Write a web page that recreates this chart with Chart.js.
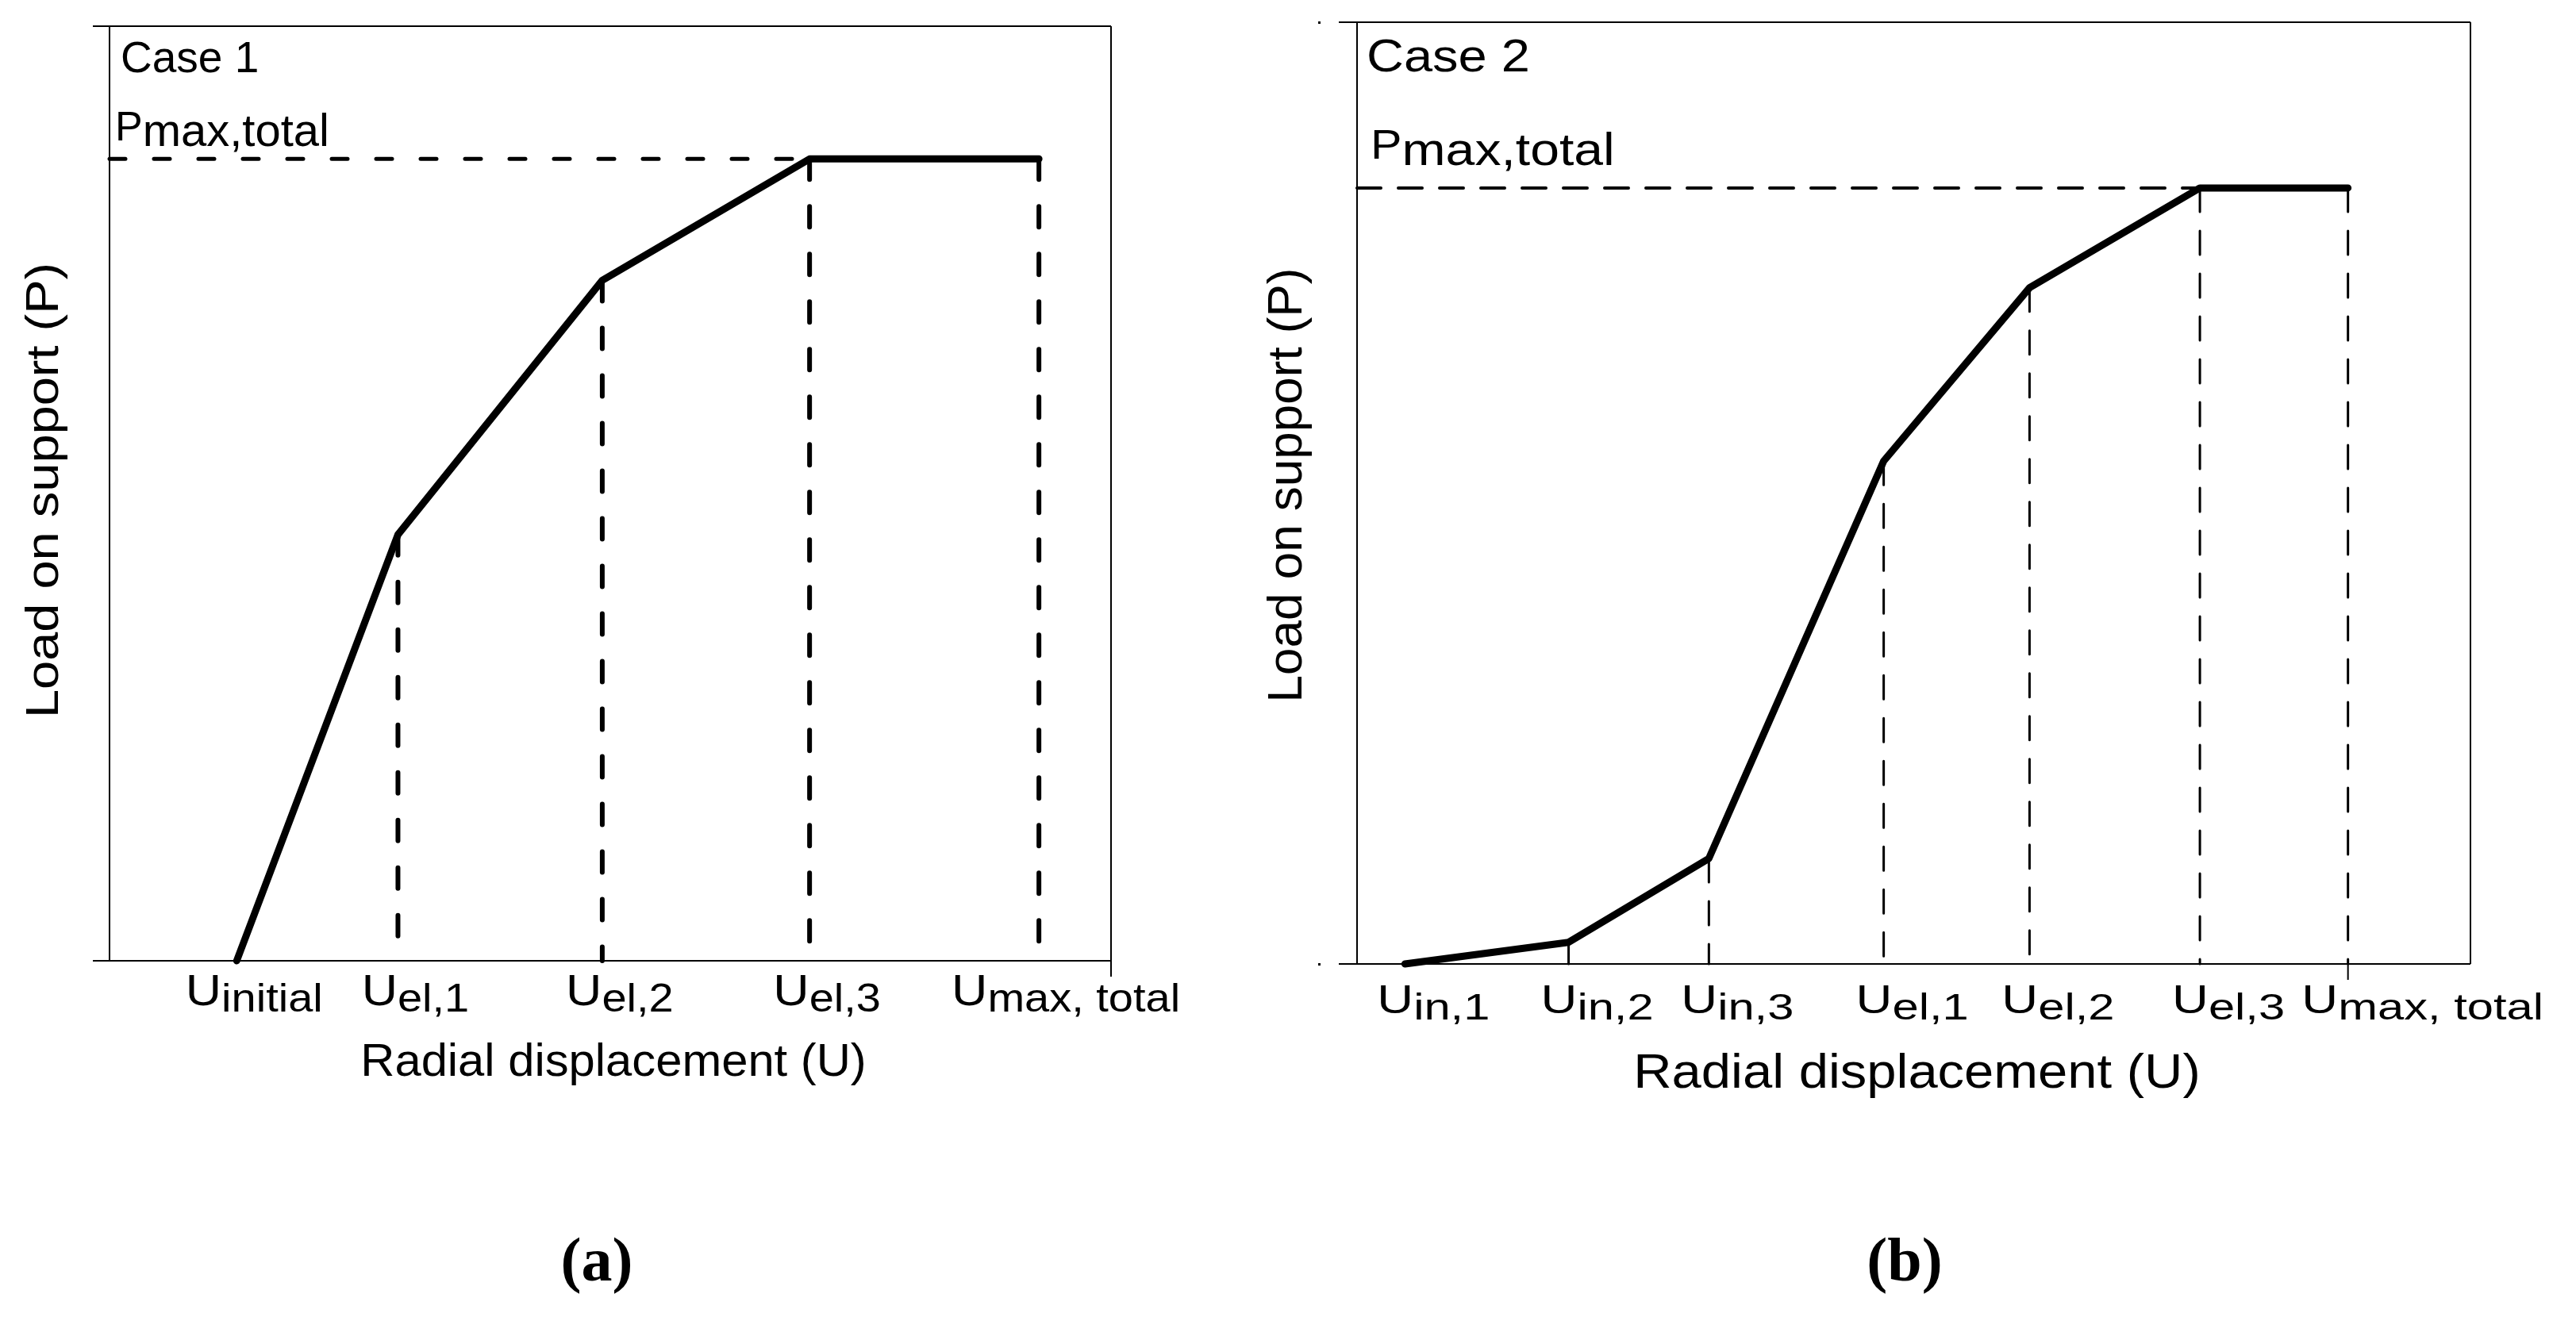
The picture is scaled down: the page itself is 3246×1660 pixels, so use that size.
<!DOCTYPE html>
<html>
<head>
<meta charset="utf-8">
<script src="https://cdn.jsdelivr.net/npm/chart.js@4.4.1/dist/chart.umd.min.js"></script>
<style>
  html, body { margin: 0; padding: 0; background: #fff; }
  body { width: 3246px; height: 1660px; position: relative; overflow: hidden; }
  canvas { position: absolute; top: 0; }
  #case1 { left: 0; }
  #case2 { left: 1560px; }
  .tag {
    position: absolute; top: 1549px; width: 200px; text-align: center;
    font: bold 78px "Liberation Serif", "Times New Roman", serif; line-height: 78px; color: #000;
  }
</style>
</head>
<body>
<canvas id="case1" width="1560" height="1660"></canvas>
<canvas id="case2" width="1686" height="1660"></canvas>
<div class="tag" style="left:652px">(a)</div>
<div class="tag" style="left:2300px">(b)</div>

<script>
// Case 1: load vs radial displacement (arbitrary units, 0..100 of the frame)
const case1Labels = ['initial', 'el,1', 'el,2', 'el,3', 'max, total'];
const case1U = [12.7, 28.8, 49.2, 69.9, 92.8];
const case1P = [0, 45.6, 72.8, 85.8, 85.8];

// Case 2
const case2Labels = ['in,1', 'in,2', 'in,3', 'el,1', 'el,2', 'el,3', 'max, total'];
const case2U = [4.3, 19.0, 31.6, 47.3, 60.4, 75.7, 89.0];
const case2P = [0, 2.3, 11.2, 53.4, 71.8, 82.4, 82.4];

const SANS = '"Liberation Sans", Arial, sans-serif';

function line(pts, width, dash) {
    return {
        data: pts,
        showLine: true,
        borderColor: '#000',
        borderWidth: width,
        borderDash: dash || [],
        borderCapStyle: 'round',
        borderJoinStyle: 'round',
        pointRadius: 0,
        tension: 0,
        clip: false
    };
}

function buildDatasets(us, ps, st) {
    const sets = [];
    sets.push(line(us.map((u, i) => ({x: u, y: ps[i]})), st.curveWidth));
    for (let i = 1; i < us.length; i++) {
        sets.push(line([{x: us[i], y: ps[i]}, {x: us[i], y: 0}], st.vWidth, st.vDash));
    }
    const k = us.length - 2;
    sets.push(line([{x: 0, y: ps[k]}, {x: us[k], y: ps[k]}], st.hWidth, st.hDash));
    return sets;
}

// text stretched horizontally by s
function wideText(ctx, text, x, y, size, s, align) {
    ctx.font = size + 'px ' + SANS;
    const w = ctx.measureText(text).width * s;
    const x0 = align === 'center' ? x - w / 2 : x;
    ctx.save();
    ctx.translate(x0, y);
    ctx.scale(s, 1);
    ctx.textAlign = 'left';
    ctx.textBaseline = 'alphabetic';
    ctx.fillText(text, 0, 0);
    ctx.restore();
}

// "U" + lowered label, like U_el,1
function drawSub(ctx, x, y, main, sub, o, align) {
    const s = o.stretch || 1;
    ctx.font = o.mainSize + 'px ' + SANS;
    const w1 = ctx.measureText(main).width;
    ctx.font = o.subSize + 'px ' + SANS;
    const w2 = ctx.measureText(sub).width;
    const x0 = align === 'left' ? x : x - (w1 + w2) * s / 2;
    ctx.save();
    ctx.translate(x0, y);
    ctx.scale(s, 1);
    ctx.textAlign = 'left';
    ctx.textBaseline = 'alphabetic';
    ctx.font = o.mainSize + 'px ' + SANS;
    ctx.fillText(main, 0, 0);
    ctx.font = o.subSize + 'px ' + SANS;
    ctx.fillText(sub, w1, o.subDy);
    ctx.restore();
}

const framePlugin = {
    id: 'frame',
    beforeDatasetsDraw(chart, args, opts) {
        const {ctx, chartArea: a} = chart;
        const xs = chart.scales.x;
        ctx.save();
        ctx.strokeStyle = '#000';
        ctx.lineWidth = 2;
        ctx.beginPath();
        ctx.moveTo(a.left - opts.extLeft, a.top); ctx.lineTo(a.right, a.top);
        ctx.moveTo(a.left - opts.extLeft, a.bottom); ctx.lineTo(a.right, a.bottom);
        ctx.moveTo(a.left, a.top); ctx.lineTo(a.left, a.bottom);
        ctx.moveTo(a.right, a.top); ctx.lineTo(a.right, a.bottom + opts.rightTick);
        if (opts.lastTick) {
            const px = xs.getPixelForValue(opts.us[opts.us.length - 1]);
            ctx.moveTo(px, a.bottom); ctx.lineTo(px, a.bottom + opts.lastTick);
        }
        ctx.stroke();
        if (opts.dots) {
            ctx.fillStyle = '#000';
            ctx.fillRect(a.left - 49, a.top - 1, 3, 3);
            ctx.fillRect(a.left - 49, a.bottom - 1, 3, 3);
        }
        ctx.restore();
    },
    afterDraw(chart, args, opts) {
        const {ctx, chartArea: a} = chart;
        const xs = chart.scales.x;
        ctx.save();
        ctx.fillStyle = '#000';

        // case name
        wideText(ctx, opts.caseText, a.left + opts.caseDx, a.top + opts.caseDy, opts.caseSize, opts.textStretch, 'left');

        // plateau label
        drawSub(ctx, a.left + opts.pDx, a.top + opts.pDy, 'P', 'max,total', opts.pFont, 'left');

        // tick labels
        opts.labels.forEach((lab, i) => {
            const last = i === opts.labels.length - 1;
            const px = xs.getPixelForValue(opts.us[i]) + (last ? opts.lastDx : opts.tickDx);
            drawSub(ctx, px, a.bottom + opts.tickDy, 'U', lab, opts.tickFont, 'center');
        });

        // axis titles
        wideText(ctx, 'Radial displacement (U)', (a.left + a.right) / 2 + 4, a.bottom + opts.xTitleDy,
            opts.titleSize, opts.titleStretch, 'center');

        ctx.translate(opts.yTitleX, (a.top + a.bottom) / 2 + opts.yTitleDy);
        ctx.rotate(-Math.PI / 2);
        wideText(ctx, 'Load on support (P)', 0, 0, opts.yTitleSize, opts.yTitleStretch, 'center');
        ctx.restore();
    }
};

function makeChart(id, us, ps, padding, st, fo) {
    return new Chart(document.getElementById(id), {
        type: 'scatter',
        data: {datasets: buildDatasets(us, ps, st)},
        options: {
            responsive: false,
            animation: false,
            devicePixelRatio: 1,
            events: [],
            layout: {padding: padding},
            plugins: {
                legend: {display: false},
                tooltip: {enabled: false},
                frame: fo
            },
            scales: {
                x: {type: 'linear', min: 0, max: 100, display: false},
                y: {type: 'linear', min: 0, max: 100, display: false}
            }
        },
        plugins: [framePlugin]
    });
}

makeChart('case1', case1U, case1P,
    {left: 138, top: 33, right: 160, bottom: 449},
    {curveWidth: 9, vWidth: 6, vDash: [26, 34], hWidth: 5, hDash: [20, 36]},
    {
        us: case1U, labels: case1Labels,
        extLeft: 21, rightTick: 20, lastTick: 0, dots: false,
        caseText: 'Case 1', caseSize: 55, caseDx: 14, caseDy: 58, textStretch: 1,
        pDx: 7, pDy: 144, pFont: {mainSize: 52, subSize: 58, subDy: 7},
        tickDx: 22, lastDx: 34, tickDy: 56, tickFont: {mainSize: 56, subSize: 50, subDy: 8, stretch: 1.12},
        titleSize: 58, titleStretch: 1.03, xTitleDy: 145,
        yTitleSize: 58, yTitleStretch: 1.12, yTitleX: 73, yTitleDy: -4
    });

makeChart('case2', case2U, case2P,
    {left: 150, top: 28, right: 133, bottom: 445},
    {curveWidth: 9, vWidth: 3, vDash: [30, 24], hWidth: 4, hDash: [30, 22]},
    {
        us: case2U, labels: case2Labels,
        extLeft: 23, rightTick: 0, lastTick: 20, dots: true,
        caseText: 'Case 2', caseSize: 57, caseDx: 12, caseDy: 62, textStretch: 1.14,
        pDx: 17, pDy: 172, pFont: {mainSize: 52, subSize: 58, subDy: 8, stretch: 1.14},
        tickDx: 36, lastDx: 94, tickDy: 62, tickFont: {mainSize: 50, subSize: 47, subDy: 8, stretch: 1.27},
        titleSize: 62, titleStretch: 1.08, xTitleDy: 156,
        yTitleSize: 62, yTitleStretch: 1, yTitleX: 80, yTitleDy: -10
    });
</script>
</body>
</html>
